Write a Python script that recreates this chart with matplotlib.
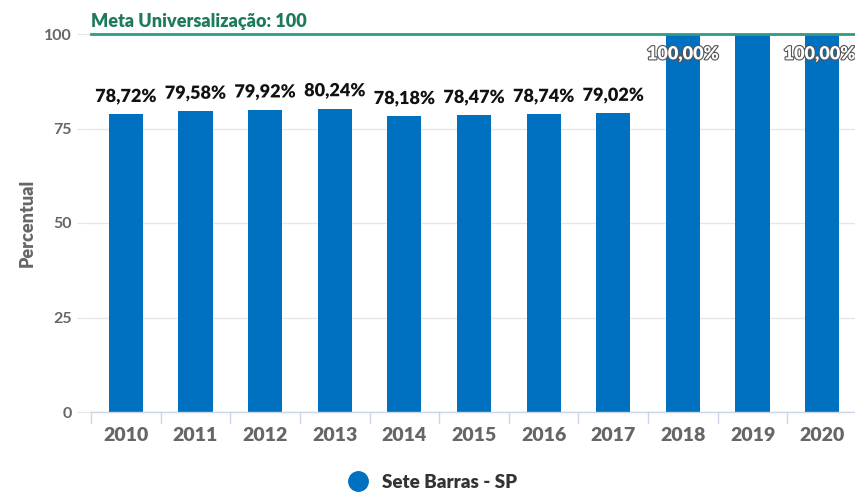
import matplotlib
matplotlib.use("Agg")
import matplotlib.pyplot as plt
import matplotlib.patheffects as pe

years = ["2010", "2011", "2012", "2013", "2014", "2015", "2016", "2017", "2018", "2019", "2020"]
values = [78.72, 79.58, 79.92, 80.24, 78.18, 78.47, 78.74, 79.02, 100.00, 100.00, 100.00]
show_label = [True, True, True, True, True, True, True, True, True, False, True]
meta = 100
yticks = [0, 25, 50, 75, 100]

plt.rcParams['font.family'] = ['Lato', 'DejaVu Sans']

fig = plt.figure(figsize=(8.55, 4.92), dpi=100)
ax = fig.add_axes([91/855, 80/492, 766/855, 378/492])

x = list(range(len(years)))
bar_color = "#0070C0"
ax.bar(x, values, width=0.49, color=bar_color, zorder=2)

ax.set_xlim(-0.5, len(years) - 0.5)
ax.set_ylim(0, 100)

ax.set_yticks(yticks)
ax.set_yticklabels([str(t) for t in yticks], fontsize=11.5, color="#666666", fontweight="bold")
ax.tick_params(axis='y', length=10, color="#e6e6e6", pad=4)
ax.yaxis.grid(True, color="#e6e6e6", linewidth=1, zorder=0)

ax.set_xticks(x)
ax.set_xticklabels(years, fontsize=14, color="#666666", fontweight="heavy")
ax.tick_params(axis='x', length=0, pad=11)
for b in [i - 0.5 for i in range(len(years) + 1)]:
    ax.plot([b, b], [0, -3], color="#ccd6eb", linewidth=1, clip_on=False, zorder=1)

for s in ["top", "right", "left"]:
    ax.spines[s].set_visible(False)
ax.spines["bottom"].set_color("#ccd6eb")
ax.spines["bottom"].set_linewidth(1)

ax.set_ylabel("Percentual", fontsize=13, color="#666666", fontweight="heavy", labelpad=6)

# meta line
ax.axhline(meta, color="#2e9c82", linewidth=2, zorder=3, clip_on=False)
ax.text(0.0, 1.01, "Meta Universalização: 100", transform=ax.transAxes,
        fontsize=13, color="#1d7a5c", fontweight="heavy", ha="left", va="bottom")

last = len(years) - 1
for xi, v, show in zip(x, values, show_label):
    if not show:
        continue
    lbl = f"{v:.2f}".replace(".", ",") + "%"
    if v >= 99:
        if xi == last:
            ax.text(xi + 0.5 - 0.02, v - 3, lbl, ha="right", va="top", fontsize=13,
                    fontweight="heavy", color="white", zorder=5,
                    path_effects=[pe.withStroke(linewidth=1.6, foreground="#555555")])
        else:
            ax.text(xi, v - 3, lbl, ha="center", va="top", fontsize=13, fontweight="heavy",
                    color="white", zorder=5,
                    path_effects=[pe.withStroke(linewidth=1.6, foreground="#555555")])
    else:
        ax.text(xi, v + 2.5, lbl, ha="center", va="bottom", fontsize=13, fontweight="heavy",
                color="#111111", zorder=5,
                path_effects=[pe.withStroke(linewidth=2, foreground="white")])

# legend
fig.legend(handles=[plt.Line2D([], [], marker='o', linestyle='', markersize=14,
                               color=bar_color)],
           labels=["Sete Barras - SP"], loc="center", bbox_to_anchor=(428/855, 1 - 482/492),
           frameon=False, handletextpad=0.3,
           prop={'weight': 'heavy', 'size': 13.5})
for t in fig.legends[0].get_texts():
    t.set_color("#333333")

fig.savefig("out.png", dpi=100)
